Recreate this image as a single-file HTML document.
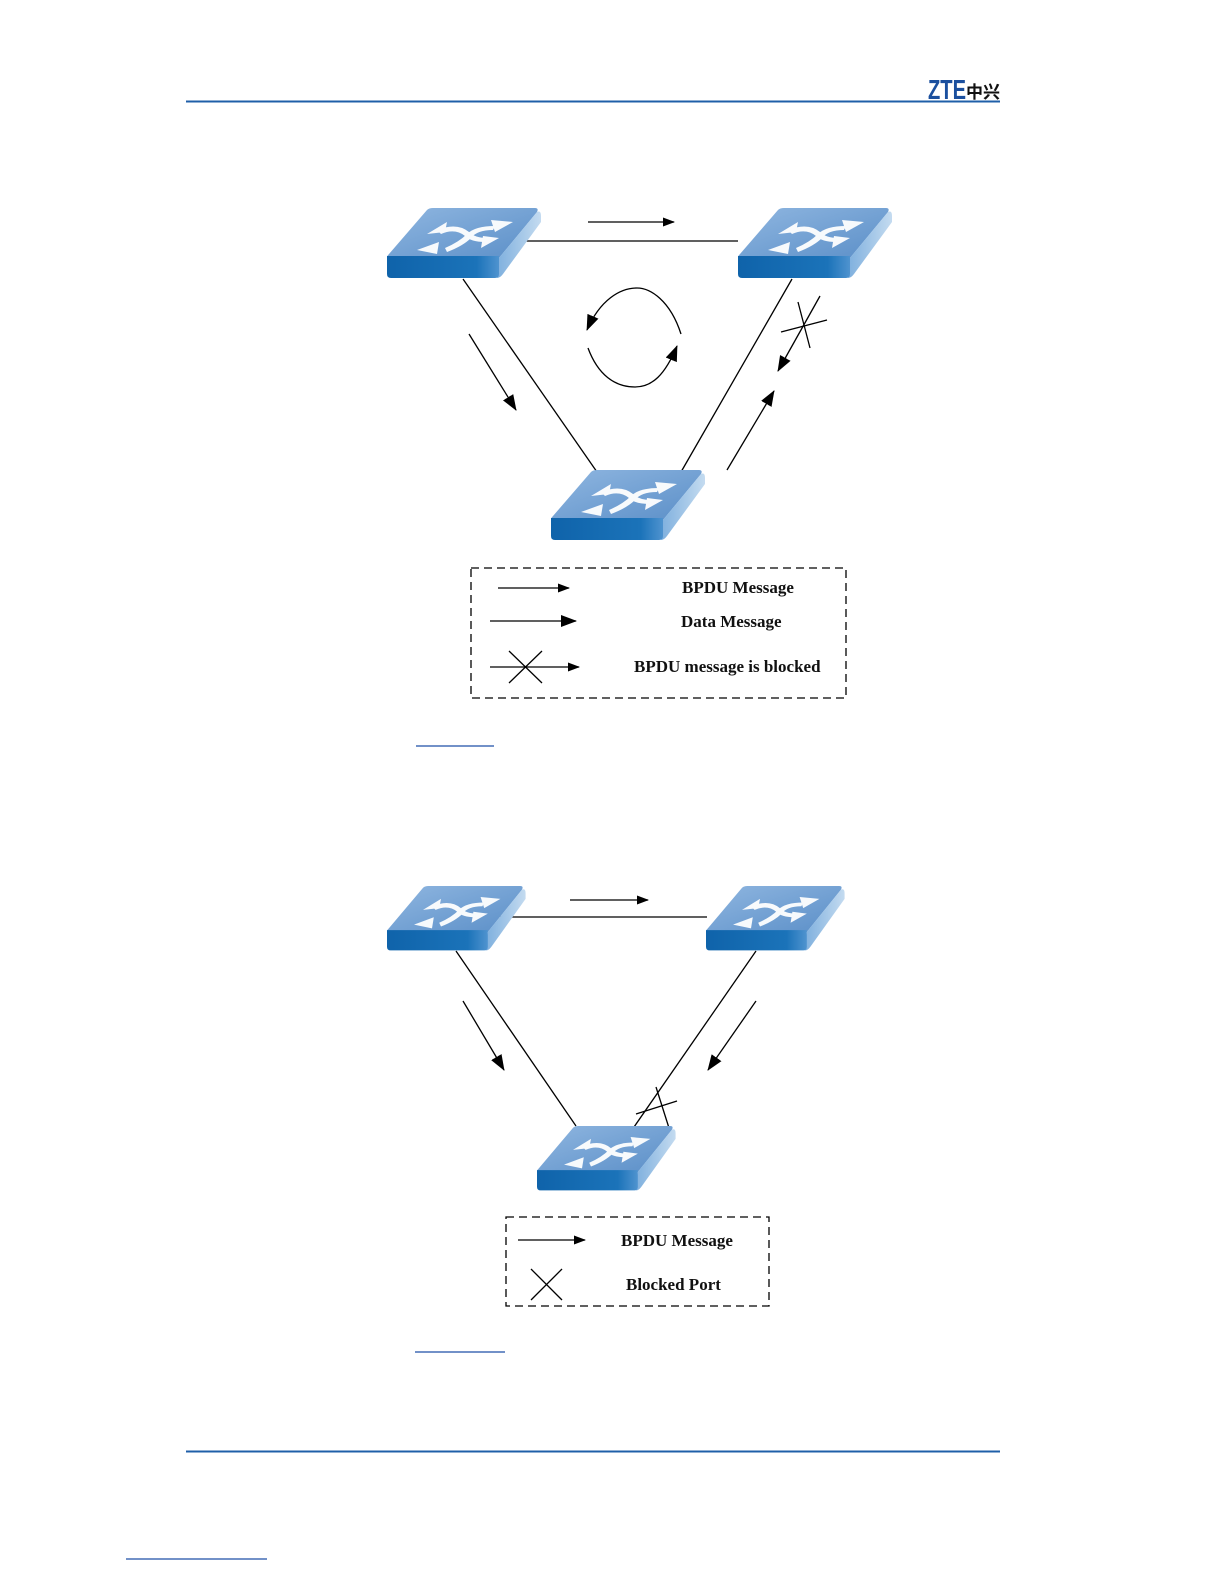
<!DOCTYPE html>
<html><head><meta charset="utf-8"><style>
html,body{margin:0;padding:0;background:#fff;overflow:hidden}
svg{display:block}
</style></head><body>
<svg width="1224" height="1584" viewBox="0 0 1224 1584" xmlns="http://www.w3.org/2000/svg">
<defs>
<linearGradient id="top" x1="0" y1="0" x2="1" y2="1">
<stop offset="0" stop-color="#8fb6e0"/><stop offset="1" stop-color="#5b8fc8"/></linearGradient>
<linearGradient id="front" x1="0" y1="0" x2="1" y2="0">
<stop offset="0" stop-color="#0f63aa"/><stop offset="0.8" stop-color="#1b73b9"/><stop offset="1" stop-color="#4f93cf"/></linearGradient>
<linearGradient id="side" x1="0" y1="0" x2="1" y2="0">
<stop offset="0" stop-color="#7fb0de"/><stop offset="1" stop-color="#c4dbf0"/></linearGradient>
<g id="sw">
<path d="M40,2 Q42,0 46,0 L148,0 Q152,0 150,4 L112,50 L2,50 Q-2,50 2,46 Z" fill="url(#top)"/>
<path d="M112,50 L150,4 Q154,2 154,8 L154,14 L116,66 Q113,70 110,70 Z" fill="url(#side)"/>
<path d="M0,48 L112,48 L112,66 Q112,70 108,70 L4,70 Q0,70 0,66 Z" fill="url(#front)"/>
<g fill="#fff" stroke="none" opacity="0.95">
<path d="M50,22 Q70,14 82,24 Q88,30 100,30 L98,34 Q84,34 78,28 Q68,20 54,26 Z"/>
<polygon points="40,26 60,14 58,24"/>
<polygon points="112,30 94,40 96,28"/>
<path d="M58,40 Q72,34 80,26 Q88,18 108,18 L106,22 Q90,22 84,30 Q76,38 60,44 Z"/>
<polygon points="30,42 52,34 50,46"/>
<polygon points="126,14 104,12 108,24"/>
</g>
</g>
<marker id="ah" markerWidth="12" markerHeight="9" refX="11" refY="4.5" orient="auto" markerUnits="userSpaceOnUse">
<polygon points="0,0 12,4.5 0,9" fill="#000"/></marker>
<marker id="ah2" markerWidth="16" markerHeight="12" refX="15" refY="6" orient="auto" markerUnits="userSpaceOnUse">
<polygon points="0,0 16,6 0,12" fill="#000"/></marker>
</defs>

<!-- header -->
<line x1="186" y1="101.5" x2="1000" y2="101.5" stroke="#1f5fa8" stroke-width="2"/>
<text x="928" y="99" font-family="Liberation Sans, sans-serif" font-weight="bold" font-size="28" fill="#1a4f9e" textLength="38" lengthAdjust="spacingAndGlyphs">ZTE</text>
<text x="966" y="98" font-family="Noto Sans CJK SC, sans-serif" font-weight="bold" font-size="17" fill="#111">中兴</text>

<!-- diagram 1 -->
<g stroke="#000" stroke-width="1.3" fill="none">
<line x1="515" y1="241" x2="738" y2="241"/>
<line x1="463" y1="279" x2="597" y2="472"/>
<line x1="792" y1="279" x2="681" y2="472"/>
<line x1="588" y1="222" x2="674" y2="222" marker-end="url(#ah)"/>
<line x1="469" y1="334" x2="516" y2="410" marker-end="url(#ah2)"/>
<line x1="727" y1="470" x2="774" y2="391" marker-end="url(#ah2)"/>
<line x1="820" y1="296" x2="778" y2="371" marker-end="url(#ah2)"/>
<line x1="798" y1="302" x2="810" y2="348"/>
<line x1="781" y1="332" x2="827" y2="320"/>
<path d="M681,334 C670,300 650,288 637,288 C620,288 600,300 587,330" marker-end="url(#ah2)"/>
<path d="M588,348 C598,375 615,387 635,387 C652,387 665,375 677,346" marker-end="url(#ah2)"/>
</g>
<use href="#sw" x="387" y="208"/>
<use href="#sw" x="738" y="208"/>
<use href="#sw" x="551" y="470"/>

<rect x="471" y="568" width="375" height="130" fill="none" stroke="#000" stroke-width="1.3" stroke-dasharray="8,5"/>
<g stroke="#000" stroke-width="1.3">
<line x1="498" y1="588" x2="569" y2="588" marker-end="url(#ah)"/>
<line x1="490" y1="621" x2="576" y2="621" marker-end="url(#ah2)"/>
<line x1="490" y1="667" x2="579" y2="667" marker-end="url(#ah)"/>
<line x1="509" y1="651" x2="542" y2="683"/>
<line x1="542" y1="651" x2="509" y2="683"/>
</g>
<g font-family="Liberation Serif, serif" font-weight="bold" font-size="17" fill="#111">
<text x="682" y="593">BPDU Message</text>
<text x="681" y="627">Data Message</text>
<text x="634" y="672">BPDU message is blocked</text>
</g>
<line x1="416" y1="746" x2="494" y2="746" stroke="#1f4fa8" stroke-width="1.3"/>

<!-- diagram 2 -->
<g stroke="#000" stroke-width="1.3" fill="none">
<line x1="500" y1="917" x2="707" y2="917"/>
<line x1="456" y1="951" x2="576" y2="1126"/>
<line x1="756" y1="951" x2="634" y2="1127"/>
<line x1="570" y1="900" x2="648" y2="900" marker-end="url(#ah)"/>
<line x1="463" y1="1001" x2="504" y2="1070" marker-end="url(#ah2)"/>
<line x1="756" y1="1001" x2="708" y2="1070" marker-end="url(#ah2)"/>
<line x1="656" y1="1087" x2="669" y2="1128"/>
<line x1="636" y1="1114" x2="677" y2="1101"/>
</g>
<g transform="translate(387,886) scale(0.9,0.92)"><use href="#sw"/></g>
<g transform="translate(706,886) scale(0.9,0.92)"><use href="#sw"/></g>
<g transform="translate(537,1126) scale(0.9,0.92)"><use href="#sw"/></g>

<rect x="506" y="1217" width="263" height="89" fill="none" stroke="#000" stroke-width="1.3" stroke-dasharray="8,5"/>
<g stroke="#000" stroke-width="1.3">
<line x1="518" y1="1240" x2="585" y2="1240" marker-end="url(#ah)"/>
<line x1="531" y1="1269" x2="562" y2="1300"/>
<line x1="562" y1="1269" x2="531" y2="1300"/>
</g>
<g font-family="Liberation Serif, serif" font-weight="bold" font-size="17" fill="#111">
<text x="621" y="1246">BPDU Message</text>
<text x="626" y="1290">Blocked Port</text>
</g>
<line x1="415" y1="1352" x2="505" y2="1352" stroke="#1f4fa8" stroke-width="1.3"/>

<!-- footer -->
<line x1="186" y1="1451.5" x2="1000" y2="1451.5" stroke="#1f5fa8" stroke-width="2"/>
<line x1="126" y1="1559" x2="267" y2="1559" stroke="#1f4fa8" stroke-width="1.3"/>
</svg>
</body></html>
